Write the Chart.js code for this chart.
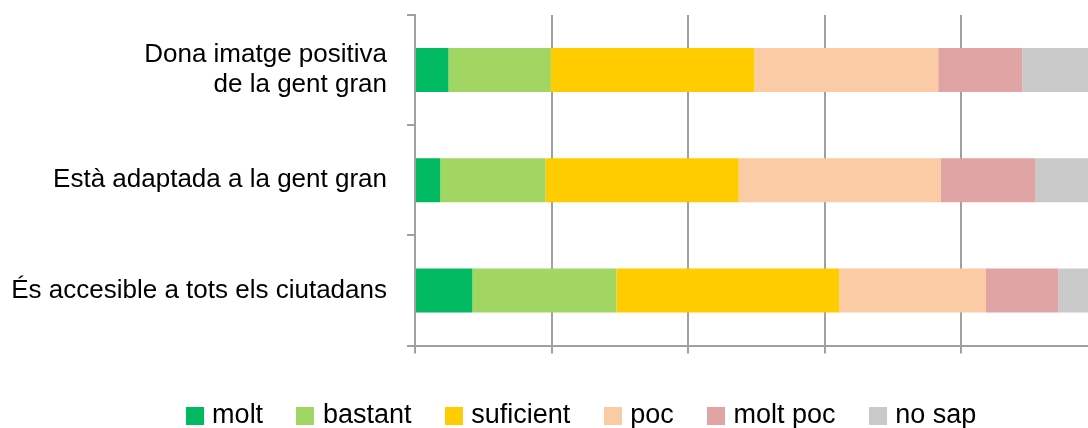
<!DOCTYPE html>
<html>
<head>
<meta charset="utf-8">
<script src="https://cdn.jsdelivr.net/npm/chart.js@4/dist/chart.umd.min.js"></script>
<style>
  html, body { margin: 0; padding: 0; background: #fff; }
  #wrap { width: 1088px; height: 428px; overflow: hidden; position: relative; }
  canvas { display: block; }
</style>
</head>
<body>
<div id="wrap"><canvas id="c" width="1167" height="439"></canvas></div>
<script>
const categories = [
  ['Dona imatge positiva', 'de la gent gran'],
  'Està adaptada a la gent gran',
  'És accesible a tots els ciutadans'
];
const seriesNames = ['molt', 'bastant', 'suficient', 'poc', 'molt poc', 'no sap'];
const molt      = [4.9, 3.7, 8.4];
const bastant   = [15.0, 15.4, 21.1];
const suficient = [29.8, 28.3, 32.6];
const poc       = [26.9, 29.6, 21.5];
const moltPoc   = [12.3, 13.8, 10.6];
const noSap     = [11.1, 9.2, 5.8];
const xTicks = [0, 20, 40, 60, 80, 100];

const seriesValues = [molt, bastant, suficient, poc, moltPoc, noSap];
const colors = ['#00B960', '#A2D663', '#FFCC00', '#FACBA4', '#E0A4A4', '#C9C9C9'];
const gridColor = '#a0a0a0';
const FONT = '"Liberation Sans", Arial, sans-serif';

function swatch(color) {
  const c = document.createElement('canvas');
  c.width = 18; c.height = 18;
  const g = c.getContext('2d');
  g.fillStyle = color;
  g.fillRect(0, 0, 18, 18);
  return c;
}

const datasets = seriesNames.map((name, i) => ({
  label: name,
  data: seriesValues[i],
  backgroundColor: colors[i],
  borderWidth: 0,
  barPercentage: 0.4,
  categoryPercentage: 1.0
}));

new Chart(document.getElementById('c'), {
  type: 'bar',
  data: { labels: categories, datasets },
  options: {
    indexAxis: 'y',
    responsive: false,
    animation: false,
    layout: { padding: { left: 0, right: 0, top: 15, bottom: 0 } },
    plugins: {
      tooltip: { enabled: false },
      legend: {
        position: 'bottom',
        labels: {
          usePointStyle: true,
          pointStyleWidth: 8,
          padding: 38.3,
          color: '#000',
          font: { family: FONT, size: 27 },
          generateLabels: (chart) => {
            const items = Chart.defaults.plugins.legend.labels.generateLabels(chart);
            items.forEach((it, i) => { it.pointStyle = swatch(colors[i]); });
            return items;
          }
        }
      }
    },
    scales: {
      x: {
        stacked: true,
        min: xTicks[0],
        max: xTicks[xTicks.length - 1],
        afterBuildTicks: (s) => { s.ticks = xTicks.map(v => ({ value: v })); },
        afterFit: (s) => { s.height = 18.2; s.paddingLeft = 0; s.paddingRight = 0; },
        ticks: { display: false },
        grid: { color: gridColor, lineWidth: 2, tickLength: 8, drawTicks: true },
        border: { display: true, color: gridColor, width: 2 }
      },
      y: {
        stacked: true,
        afterFit: (s) => { s.width = 415; s.paddingTop = 0; s.paddingBottom = 0; },
        ticks: {
          color: '#000',
          padding: 20,
          font: { family: FONT, size: 26, lineHeight: 1.15 }
        },
        grid: { drawOnChartArea: false, color: gridColor, lineWidth: 2, tickLength: 8, offset: true },
        border: { display: true, color: gridColor, width: 2 }
      },
      spacer: {
        type: 'category',
        labels: [''],
        position: 'right',
        afterFit: (s) => { s.width = 69; s.paddingTop = 0; s.paddingBottom = 0; },
        ticks: { display: false },
        grid: { display: false },
        border: { display: false }
      }
    }
  }
});
</script>
</body>
</html>
